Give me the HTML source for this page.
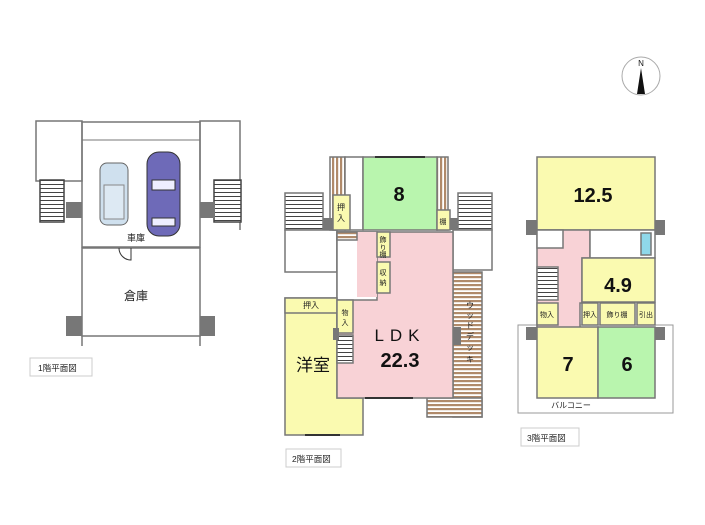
<!DOCTYPE html>
<html><head><meta charset="utf-8"><style>
body{margin:0;background:#fff}
svg{display:block}
text{font-family:"Liberation Sans","Noto Sans CJK JP",sans-serif}
</style></head><body>
<svg width="705" height="525" viewBox="0 0 705 525" xmlns="http://www.w3.org/2000/svg">
<defs>
<pattern id="wood" width="4" height="4" patternUnits="userSpaceOnUse"><rect width="4" height="4" fill="#fff"/><rect width="4" height="2.2" fill="#b08a6a"/></pattern>
<pattern id="woodv" width="4" height="4" patternUnits="userSpaceOnUse"><rect width="4" height="4" fill="#fff"/><rect width="2.2" height="4" fill="#b08a6a"/></pattern>
<pattern id="stair" width="4" height="4" patternUnits="userSpaceOnUse"><rect width="4" height="4" fill="#fff"/><rect width="4" height="1" fill="#444"/></pattern>
</defs>
<g stroke="#777" stroke-width="1.5" fill="none">
<!-- Floor 1 -->
<rect x="36" y="121" width="46" height="60" fill="#fff"/>
<path d="M82 200 V122 H200 V247 H82 V200"/>
<line x1="82" y1="140" x2="200" y2="140" stroke-width="1"/>
<path d="M200 180 V121 H240 V230"/>
<rect x="40" y="180" width="24" height="42" fill="url(#stair)" stroke="#444"/>
<rect x="214" y="180" width="27" height="42" fill="url(#stair)" stroke="#444"/>
<rect x="82" y="248" width="118" height="88"/>
<line x1="82" y1="346" x2="82" y2="336"/><line x1="200" y1="346" x2="200" y2="336"/>
</g>
<rect x="66" y="202" width="16" height="16" fill="#777"/>
<rect x="200" y="202" width="15" height="16" fill="#777"/>
<rect x="66" y="316" width="16" height="20" fill="#777"/>
<rect x="200" y="316" width="15" height="20" fill="#777"/>
<path d="M119 248 A12 12 0 0 0 131 260 V248" stroke="#333" fill="none"/>
<rect x="100" y="163" width="28" height="62" rx="7" fill="#cfe0ee" stroke="#666"/>
<rect x="104" y="185" width="20" height="34" fill="#dde9f3" stroke="#888"/>
<rect x="147" y="152" width="33" height="84" rx="12" fill="#6e6ab8" stroke="#333"/>
<rect x="152" y="180" width="23" height="10" fill="#eef" stroke="#333"/>
<rect x="152" y="218" width="23" height="8" fill="#eef" stroke="#333"/>
<text x="136" y="241" font-size="9" text-anchor="middle" fill="#222">車庫</text>
<text x="136" y="300" font-size="12" text-anchor="middle" fill="#222">倉庫</text>
<rect x="30" y="358" width="62" height="18" fill="#fff" stroke="#ccc"/>
<text x="38" y="371" font-size="8.5" fill="#222">1階平面図</text>

<!-- Floor 2 -->
<g stroke="#777" stroke-width="1.5">
<rect x="285" y="193" width="38" height="37" fill="url(#stair)"/>
<rect x="285" y="230" width="52" height="42" fill="#fff"/>
<rect x="458" y="193" width="34" height="37" fill="url(#stair)"/>
<rect x="453" y="230" width="39" height="40" fill="#fff"/>
<rect x="330" y="157" width="15" height="73" fill="url(#woodv)"/>
<rect x="345" y="157" width="18" height="73" fill="#fff"/>
<rect x="437" y="157" width="11" height="73" fill="url(#woodv)"/>
<rect x="363" y="157" width="74" height="73" fill="#b9f5ae"/>
<rect x="453" y="272" width="29" height="145" fill="url(#wood)"/>
<rect x="427" y="398" width="55" height="19" fill="url(#wood)"/>
<path d="M285 298 H337 V398 H363 V435 H285 Z" fill="#fafab0"/>
<path d="M337 232 H453 V398 H337 Z" fill="#f8d2d6"/>
<rect x="337" y="232" width="40" height="68" fill="#fff"/>
<rect x="357" y="232" width="20" height="65" fill="#f8d2d6" stroke="none"/>
<rect x="333" y="195" width="17" height="35" fill="#fafab0"/>
<rect x="437" y="210" width="13" height="20" fill="#fafab0"/>
<rect x="377" y="232" width="13" height="25" fill="#fafab0"/>
<rect x="377" y="262" width="13" height="31" fill="#fafab0"/>
<rect x="285" y="298" width="52" height="15" fill="#fafab0"/>
<rect x="337" y="300" width="16" height="33" fill="#fafab0"/>
<rect x="337" y="335" width="16" height="28" fill="url(#stair)"/>
<rect x="337" y="232" width="20" height="8" fill="url(#wood)"/>
</g>
<rect x="333" y="328" width="6" height="12" fill="#777"/>
<rect x="453" y="327" width="8" height="18" fill="#777"/>
<rect x="323" y="218" width="10" height="12" fill="#777"/>
<rect x="450" y="218" width="8" height="12" fill="#777"/>
<line x1="375" y1="157" x2="425" y2="157" stroke="#333" stroke-width="2"/>
<line x1="365" y1="398" x2="413" y2="398" stroke="#333" stroke-width="2"/>
<line x1="305" y1="435" x2="340" y2="435" stroke="#333" stroke-width="2"/>
<text x="399" y="201" font-size="20" font-weight="bold" text-anchor="middle" fill="#111">8</text>
<text x="341" y="210" font-size="8" text-anchor="middle" fill="#222">押</text>
<text x="341" y="221" font-size="8" text-anchor="middle" fill="#222">入</text>
<text x="443" y="224" font-size="7" text-anchor="middle" fill="#222">棚</text>
<text x="383" y="242" font-size="7" text-anchor="middle" fill="#222">飾</text>
<text x="383" y="250" font-size="7" text-anchor="middle" fill="#222">り</text>
<text x="383" y="257" font-size="7" text-anchor="middle" fill="#222">棚</text>
<text x="383" y="275" font-size="7" text-anchor="middle" fill="#222">収</text>
<text x="383" y="285" font-size="7" text-anchor="middle" fill="#222">納</text>
<text x="311" y="308" font-size="8" text-anchor="middle" fill="#222">押入</text>
<text x="345" y="315" font-size="7" text-anchor="middle" fill="#222">物</text>
<text x="345" y="325" font-size="7" text-anchor="middle" fill="#222">入</text>
<text x="400" y="341" font-size="17" text-anchor="middle" fill="#111" letter-spacing="6">LDK</text>
<text x="400" y="367" font-size="20" font-weight="bold" text-anchor="middle" fill="#111">22.3</text>
<text x="313" y="371" font-size="17" text-anchor="middle" fill="#111">洋室</text>
<g font-size="8" fill="#222" text-anchor="middle">
<text x="470" y="308">ウ</text><text x="470" y="318">ッ</text><text x="470" y="328">ド</text><text x="470" y="339">デ</text><text x="470" y="350">ッ</text><text x="470" y="362">キ</text>
</g>
<rect x="286" y="449" width="55" height="18" fill="#fff" stroke="#ccc"/>
<text x="292" y="462" font-size="8.5" fill="#222">2階平面図</text>

<!-- Floor 3 -->
<rect x="518" y="325" width="155" height="88" fill="#fff" stroke="#999"/>
<g stroke="#777" stroke-width="1.5">
<rect x="537" y="157" width="118" height="73" fill="#fafab0"/>
<path d="M537 230 H590 V258 H582 V303 H580 V330 H537 Z" fill="#f8d2d6"/>
<rect x="537" y="230" width="26" height="18" fill="#fff"/>
<rect x="590" y="230" width="65" height="28" fill="#fff"/>
<rect x="641" y="233" width="10" height="22" fill="#8fd8ea"/>
<rect x="582" y="258" width="73" height="44" fill="#fafab0"/>
<rect x="537" y="267" width="21" height="33" fill="url(#stair)"/>
<rect x="537" y="303" width="21" height="22" fill="#fafab0"/>
<rect x="582" y="303" width="16" height="22" fill="#fafab0"/>
<rect x="600" y="303" width="35" height="22" fill="#fafab0"/>
<rect x="637" y="303" width="18" height="22" fill="#fafab0"/>
<rect x="537" y="327" width="61" height="71" fill="#fafab0"/>
<rect x="598" y="327" width="57" height="71" fill="#b9f5ae"/>
</g>
<rect x="526" y="220" width="11" height="15" fill="#777"/>
<rect x="655" y="220" width="10" height="15" fill="#777"/>
<rect x="526" y="327" width="11" height="13" fill="#777"/>
<rect x="655" y="327" width="10" height="13" fill="#777"/>
<text x="593" y="202" font-size="20" font-weight="bold" text-anchor="middle" fill="#111">12.5</text>
<text x="618" y="292" font-size="20" font-weight="bold" text-anchor="middle" fill="#111">4.9</text>
<text x="568" y="371" font-size="20" font-weight="bold" text-anchor="middle" fill="#111">7</text>
<text x="627" y="371" font-size="20" font-weight="bold" text-anchor="middle" fill="#111">6</text>
<text x="547" y="317" font-size="7" text-anchor="middle" fill="#222">物入</text>
<text x="590" y="317" font-size="7" text-anchor="middle" fill="#222">押入</text>
<text x="617" y="317" font-size="7" text-anchor="middle" fill="#222">飾り棚</text>
<text x="646" y="317" font-size="7" text-anchor="middle" fill="#222">引出</text>
<text x="571" y="408" font-size="8" text-anchor="middle" fill="#222">バルコニー</text>
<rect x="521" y="428" width="58" height="18" fill="#fff" stroke="#ccc"/>
<text x="527" y="441" font-size="8.5" fill="#222">3階平面図</text>

<!-- compass -->
<circle cx="641" cy="76" r="19" fill="#fff" stroke="#aaa"/>
<text x="641" y="66" font-size="8" text-anchor="middle" font-family="Liberation Serif" fill="#111">N</text>
<path d="M641 68 L637 94 H645 Z" fill="#111"/>
</svg>
</body></html>
